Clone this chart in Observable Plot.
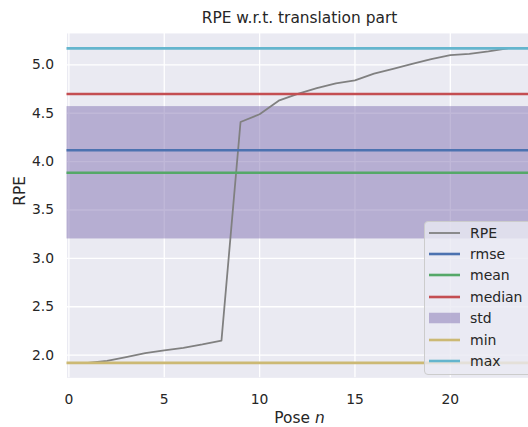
<!DOCTYPE html>
<html>
<head>
<meta charset="utf-8">
<script src="https://cdn.jsdelivr.net/npm/d3@7"></script>
<script src="https://cdn.jsdelivr.net/npm/@observablehq/plot@0.6"></script>
<style>
  body { margin: 0; background: #fff; font-family: "DejaVu Sans", sans-serif; color: #262626; }
  #wrap { position: relative; width: 528px; height: 427px; overflow: hidden; }
  #title { box-sizing: border-box; width: 532px; height: 28px; padding: 8px 0 0 67px;
           line-height: 20px; font-size: 15.4px; text-align: center; white-space: nowrap; }
  #xlabel { box-sizing: border-box; width: 532px; height: 17px; padding: 3px 0 0 67px;
            line-height: 17px; font-size: 15.4px; text-align: center; white-space: nowrap; }
  #chart svg { display: block; }
  #legend { position: absolute; left: 424px; top: 221px; width: 112px; height: 154px;
            box-sizing: border-box; border: 1px solid #cccccc; border-radius: 4px;
            background: rgba(234, 234, 242, 0.8); font-size: 14px; }
  .row { display: flex; align-items: center; height: 21.4px; }
  .sw { margin-left: 4px; flex: none; display: block; }
  .lab { margin-left: 10px; white-space: nowrap; }
</style>
</head>
<body>
<div id="wrap">
  <div id="title">RPE w.r.t. translation part</div>
  <div id="chart"></div>
  <div id="xlabel">Pose <i>n</i></div>
  <div id="legend"></div>
</div>
<script>
// Relative pose error per pose index
const poses = [1, 2, 3, 4, 5, 6, 7, 8, 9, 10, 11, 12, 13, 14, 15, 16, 17, 18, 19, 20, 21, 22, 23];
const rpe = [1.92, 1.94, 1.98, 2.02, 2.05, 2.075, 2.11, 2.15, 4.41, 4.49, 4.63, 4.70,
             4.76, 4.81, 4.84, 4.91, 4.96, 5.01, 5.06, 5.10, 5.115, 5.14, 5.171];

// Legend entries and their colours
const seriesNames = ["RPE", "rmse", "mean", "median", "std", "min", "max"];
const seriesColors = ["gray", "#4C72B0", "#55A868", "#C44E52", "#8172B2", "#CCB974", "#64B5CD"];
const colorOf = Object.fromEntries(seriesNames.map((n, i) => [n, seriesColors[i]]));

// Axis ticks
const xTicks = [0, 5, 10, 15, 20];
const yTicks = [2.0, 2.5, 3.0, 3.5, 4.0, 4.5, 5.0];

// Summary statistics of the error series
const mean = d3.mean(rpe);
const std = Math.sqrt(d3.mean(rpe, v => (v - mean) ** 2));
const stats = {
  rmse: Math.sqrt(d3.mean(rpe, v => v * v)),
  mean: mean,
  median: d3.median(rpe),
  std: std,
  min: d3.min(rpe),
  max: d3.max(rpe)
};

const points = poses.map((p, i) => ({pose: p, value: rpe[i]}));
const ruleRows = ["rmse", "mean", "median", "min", "max"].map(k => ({name: k, value: stats[k], color: colorOf[k]}));
const band = [{lo: mean - std / 2, hi: mean + std / 2}];

const lineWidth = 1.8;
const statWidth = 2.6;

const chart = Plot.plot({
  width: 532,
  height: 382,
  marginLeft: 67,
  marginRight: 0,
  marginTop: 5,
  marginBottom: 30,
  style: {fontFamily: "DejaVu Sans, sans-serif", fontSize: "14px", color: "#262626", background: "transparent", overflow: "visible"},
  x: {domain: [-0.1, 24.1], label: null},
  y: {domain: [1.765, 5.325], label: null},
  color: {type: "identity"},
  marks: [
    Plot.frame({fill: "#EAEAF2", stroke: "none"}),
    Plot.ruleX(xTicks, {stroke: "white", strokeWidth: 1.3}),
    Plot.ruleY(yTicks, {stroke: "white", strokeWidth: 1.3}),
    Plot.rect(band, {y1: "lo", y2: "hi", fill: colorOf.std, fillOpacity: 0.5}),
    Plot.line(points, {x: "pose", y: "value", stroke: colorOf.RPE, strokeWidth: lineWidth}),
    Plot.ruleY(ruleRows, {y: "value", stroke: "color", strokeWidth: statWidth}),
    Plot.axisX(xTicks, {tickSize: 0, tickPadding: 16, label: null}),
    Plot.axisY(yTicks, {tickSize: 0, tickPadding: 13, label: null, tickFormat: d3.format(".1f")}),
    Plot.text(["RPE"], {text: d => d, frameAnchor: "left", rotate: -90, dx: -47, fontSize: 15.4})
  ]
});
document.getElementById("chart").append(chart);

// Legend
const legend = document.getElementById("legend");
const svgNS = "http://www.w3.org/2000/svg";
seriesNames.forEach((name, i) => {
  const row = document.createElement("div");
  row.className = "row";
  const sw = document.createElementNS(svgNS, "svg");
  sw.setAttribute("class", "sw");
  sw.setAttribute("width", 31);
  sw.setAttribute("height", 12);
  if (name === "std") {
    const r = document.createElementNS(svgNS, "rect");
    r.setAttribute("x", 0); r.setAttribute("y", 0.75);
    r.setAttribute("width", 31); r.setAttribute("height", 10.5);
    r.setAttribute("fill", seriesColors[i]); r.setAttribute("fill-opacity", 0.5);
    sw.append(r);
  } else {
    const l = document.createElementNS(svgNS, "line");
    l.setAttribute("x1", 0); l.setAttribute("x2", 31);
    l.setAttribute("y1", 6); l.setAttribute("y2", 6);
    l.setAttribute("stroke", seriesColors[i]);
    l.setAttribute("stroke-width", name === "RPE" ? lineWidth : statWidth);
    sw.append(l);
  }
  const lab = document.createElement("span");
  lab.className = "lab";
  lab.textContent = name;
  row.append(sw, lab);
  legend.append(row);
});
</script>
</body>
</html>
